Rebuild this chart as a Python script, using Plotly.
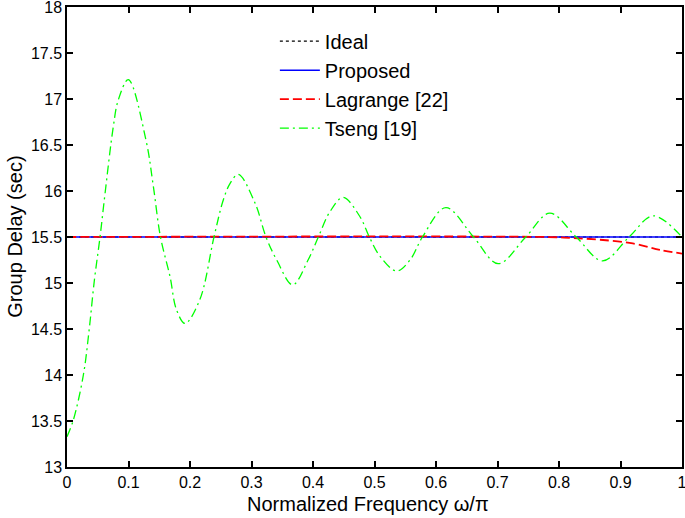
import plotly.graph_objects as go

# ---- data ----
ideal_f = [0.0, 1.0]
ideal_v = [15.5, 15.5]

proposed_f = [0.0, 1.0]
proposed_v = [15.5, 15.5]

lagrange_f = [0.0, 0.78, 0.82, 0.867, 0.92, 0.964, 1.0]
lagrange_v = [15.5, 15.5, 15.49, 15.47, 15.43, 15.36, 15.32]

tseng_f = [0.0, 0.0103, 0.0266, 0.036, 0.0445, 0.0537, 0.0618, 0.0753, 0.0834, 0.0997,
           0.1285, 0.1404, 0.152, 0.1675, 0.178, 0.192, 0.216, 0.239, 0.254, 0.265, 0.2786,
           0.3057, 0.3236, 0.341, 0.367, 0.392, 0.4087, 0.4276, 0.449, 0.4764, 0.4916,
           0.509, 0.536, 0.5577, 0.578, 0.616, 0.661, 0.701, 0.746, 0.785, 0.828,
           0.871, 0.914, 0.953, 1.0]
tseng_v = [13.33, 13.51, 14.0, 14.49, 15.03, 15.5, 15.97, 16.70, 16.99, 17.21,
           16.55, 16.05, 15.5, 15.07, 14.71, 14.56, 14.82, 15.5, 15.90, 16.08, 16.18,
           15.87, 15.5, 15.25, 14.98, 15.25, 15.5, 15.775, 15.93, 15.72, 15.5,
           15.29, 15.13, 15.25, 15.5, 15.82, 15.5, 15.21, 15.5, 15.76, 15.5,
           15.24, 15.5, 15.73, 15.5]

x_ticks = [0, 0.1, 0.2, 0.3, 0.4, 0.5, 0.6, 0.7, 0.8, 0.9, 1]
x_tick_text = ["0", "0.1", "0.2", "0.3", "0.4", "0.5", "0.6", "0.7", "0.8", "0.9", "1"]
y_ticks = [13, 13.5, 14, 14.5, 15, 15.5, 16, 16.5, 17, 17.5, 18]
y_tick_text = ["13", "13.5", "14", "14.5", "15", "15.5", "16", "16.5", "17", "17.5", "18"]

x_title = "Normalized Frequency ω/π"
y_title = "Group Delay (sec)"

FONT = "Liberation Sans, Arial, sans-serif"

fig = go.Figure()
fig.add_trace(go.Scatter(x=ideal_f, y=ideal_v, mode="lines", name="Ideal",
                         line=dict(color="black", width=1.2, dash="dot")))
fig.add_trace(go.Scatter(x=proposed_f, y=proposed_v, mode="lines", name="Proposed",
                         line=dict(color="#0000ff", width=1.5)))
fig.add_trace(go.Scatter(x=lagrange_f, y=lagrange_v, mode="lines", name="Lagrange [22]",
                         line=dict(color="#ff0000", width=1.8, dash="9px,4px", shape="spline")))
fig.add_trace(go.Scatter(x=tseng_f, y=tseng_v, mode="lines", name="Tseng [19]",
                         line=dict(color="#00ff00", width=1.3, dash="9px,4px,2px,4px",
                                   shape="spline", smoothing=1.0)))

axis_common = dict(showline=True, linecolor="black", linewidth=1.5, mirror="ticks",
                   ticks="inside", ticklen=6, tickwidth=1.5, tickcolor="black",
                   showgrid=False, zeroline=False, automargin=False,
                   ticklabeloverflow="allow",
                   tickfont=dict(family=FONT, size=16, color="black"))

fig.update_xaxes(range=[0, 1], tickvals=x_ticks, ticktext=x_tick_text, **axis_common)
fig.update_yaxes(range=[13, 18], tickvals=y_ticks, ticktext=y_tick_text, **axis_common)

fig.add_annotation(text=x_title, xref="paper", yref="paper", x=0.49, y=-0.081,
                   xanchor="center", yanchor="middle", showarrow=False,
                   font=dict(family=FONT, size=20, color="black"))
fig.add_annotation(text=y_title, xref="paper", yref="paper", x=-0.085, y=0.5,
                   xanchor="center", yanchor="middle", showarrow=False, textangle=-90,
                   font=dict(family=FONT, size=20, color="black"))

fig.update_layout(
    width=685, height=518,
    margin=dict(l=67, r=3, t=7, b=51),
    paper_bgcolor="white", plot_bgcolor="white",
    legend=dict(x=0.338, y=0.968, xanchor="left", yanchor="top",
                bgcolor="rgba(0,0,0,0)", borderwidth=0,
                font=dict(family=FONT, size=20, color="black"),
                tracegroupgap=0, itemwidth=40),
    showlegend=True,
)

fig.write_html("out.html", config={"displayModeBar": False},
               post_script="document.body.style.margin='0';document.body.style.overflow='hidden';")
